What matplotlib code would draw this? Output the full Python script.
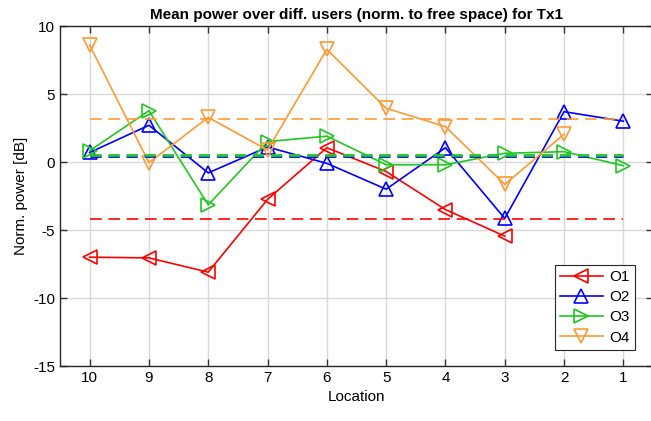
import matplotlib
matplotlib.use("Agg")
import matplotlib.pyplot as plt
import numpy as np

plt.rcParams["font.family"] = ["Liberation Sans", "DejaVu Sans"]
plt.rcParams["axes.unicode_minus"] = False

# ---- data
locations = ["10", "9", "8", "7", "6", "5", "4", "3", "2", "1"]
o1 = [-7.0, -7.05, -8.1, -2.75, 1.05, -0.7, -3.5, -5.45, np.nan, np.nan]
o2 = [0.7, 2.7, -0.8, 1.1, -0.1, -2.0, 1.05, -4.15, 3.7, 3.0]
o3 = [0.83, 3.77, -3.15, 1.5, 1.9, -0.2, -0.2, 0.64, 0.76, -0.27]
o4 = [8.6, -0.05, 3.28, 0.88, 8.28, 3.95, 2.6, -1.64, 2.04, np.nan]
means = [-4.2, 0.46, 0.54, 3.14]
names = ["O1", "O2", "O3", "O4"]

colors = ["#ff0000", "#0000ff", "#1fc81f", "#ff9933"]
markers = ["<", "^", ">", "v"]
mean_lw = [1.2, 2.0, 2.0, 1.2]

fig = plt.figure(figsize=(6.51, 4.21), dpi=100)
ax = fig.add_axes([60 / 651, 1 - 366 / 421, 593 / 651, 340 / 421])

x = np.arange(1, len(locations) + 1)
for ys, c, m, n in zip([o1, o2, o3, o4], colors, markers, names):
    ax.plot(x, ys, color=c, marker=m, ms=10, mfc="none", mew=1.2, lw=1.2, label=n)
for mu, c, lw in zip(means, colors, mean_lw):
    ax.plot([x[0], x[-1]], [mu, mu], color=c,
            ls=(0, (4, 2.5)) if lw > 1.5 else (0, (7, 4)), lw=lw)

ax.set_xlim(0.5, len(locations) + 0.5)
ax.set_ylim(-15, 10)
ax.set_xticks(x)
ax.set_xticklabels(locations)
ax.set_yticks(np.arange(-15, 11, 5))
ax.grid(True, color="#d9d9d9", lw=1.0)
ax.set_axisbelow(True)
ax.tick_params(direction="in", top=True, right=True, length=5, labelsize=11,
               color="#333333", width=1)
for s in ax.spines.values():
    s.set_color("#262626")
    s.set_linewidth(1)
ax.set_xlabel("Location", fontsize=11)
ax.set_ylabel("Norm. power [dB]", fontsize=11)
ax.set_title("Mean power over diff. users (norm. to free space) for Tx1",
             fontsize=11, fontweight="bold", pad=5)

leg = ax.legend(loc="lower right", bbox_to_anchor=(0.982, 0.025), fontsize=11,
                fancybox=False, framealpha=1, edgecolor="#262626",
                handlelength=2.8, borderpad=0.35, labelspacing=0.4,
                handletextpad=0.4)
leg.get_frame().set_linewidth(0.8)

fig.savefig("out.png", dpi=100)
